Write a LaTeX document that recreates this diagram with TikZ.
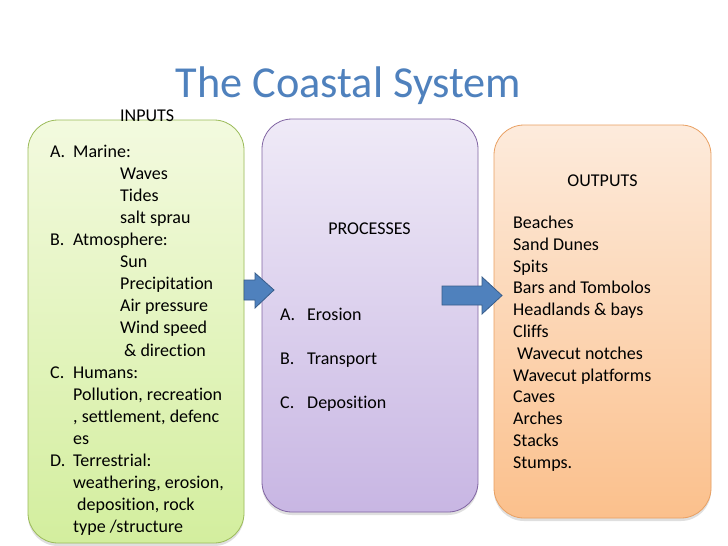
\documentclass[tikz,border=0pt]{standalone}
\usepackage{fontspec}
\setmainfont[Ligatures={NoCommon}]{Carlito}
\usetikzlibrary{shadows}
\definecolor{titleblue}{HTML}{4F81BD}
\definecolor{arrowfill}{HTML}{4F81BD}
\definecolor{arrowline}{HTML}{385D8A}
\definecolor{gtop}{HTML}{F3FADF}
\definecolor{gbot}{HTML}{D3EE9E}
\definecolor{gline}{HTML}{9BBB59}
\definecolor{ptop}{HTML}{EFEAF7}
\definecolor{pbot}{HTML}{C8B6E3}
\definecolor{pline}{HTML}{8064A2}
\definecolor{otop}{HTML}{FDEBDC}
\definecolor{obot}{HTML}{FBC08C}
\definecolor{oline}{HTML}{E9A062}
\begin{document}
\begin{tikzpicture}[x=1pt,y=-1pt,
  box/.style={rounded corners=30pt, line width=0.8pt, inner sep=0pt,
    drop shadow={shadow xshift=0pt, shadow yshift=-3pt, opacity=0.25}},
  txt/.style={anchor=base west, inner sep=0pt, font=\fontsize{18pt}{22pt}\selectfont},
  ctxt/.style={anchor=base, inner sep=0pt, font=\fontsize{18pt}{22pt}\selectfont},
  blockarrow/.style={fill=arrowfill, draw=arrowline, line width=0.8pt}]
\useasboundingbox (0,0) rectangle (728,546);
\fill[white] (0,0) rectangle (728,546);
% title
\node[anchor=base, inner sep=0pt, text=titleblue, font=\fontsize{44.3pt}{50pt}\selectfont] (title) at (348.5,97) {The Coastal System};
% boxes
\node[box, draw=gline, top color=gtop, bottom color=gbot, minimum width=216pt, minimum height=423pt] (in) at (136,331.5) {};
\node[box, draw=pline, top color=ptop, bottom color=pbot, minimum width=216pt, minimum height=393pt] (proc) at (370,315.5) {};
\node[box, draw=oline, top color=otop, bottom color=obot, minimum width=217pt, minimum height=393pt] (out) at (602.5,321.5) {};
% arrows
\coordinate (a1s) at (244,290);
\coordinate (a1t) at (274,290);
\draw[blockarrow] (a1s) ++(0,-10) -- (255,280) -- (255,273) -- (a1t) -- (255,308) -- (255,300) -- (244,300) -- cycle;
\coordinate (a2s) at (442,295.5);
\coordinate (a2t) at (502,295.5);
\draw[blockarrow] (a2s) ++(0,-9.5) -- (482,286) -- (482,277) -- (a2t) -- (482,314) -- (482,305) -- (442,305) -- cycle;
% inputs
\node[txt] (inputs) at (120,121) {INPUTS};
\foreach \xx/\tt [count=\i from 0] in {
  50/{\makebox[23pt][l]{A.}Marine:},
  120/{Waves},
  120/{Tides},
  120/{salt sprau},
  50/{\makebox[23pt][l]{B.}Atmosphere:},
  120/{Sun},
  120/{Precipitation},
  120/{Air pressure},
  120/{Wind speed},
  124/{\& direction},
  50/{\makebox[23pt][l]{C.}Humans:},
  73/{Pollution, recreation},
  73/{, settlement, defenc},
  73/{es},
  50/{\makebox[23pt][l]{D.}Terrestrial:},
  73/{weathering, erosion,},
  77/{deposition, rock},
  73/{type /structure}}
  \node[txt] (l\i) at (\xx, 157.5+22.06*\i) {\tt};
% processes
\node[ctxt] (processes) at (369.5,234) {PROCESSES};
\foreach \ll/\tt [count=\i from 0] in {A./Erosion, B./Transport, C./Deposition}
  \node[txt] (p\i) at (280, 320.5+44*\i) {\makebox[27pt][l]{\ll}\tt};
% outputs
\node[ctxt] (outputs) at (602.5,186) {OUTPUTS};
\foreach \xx/\tt [count=\i from 0] in {
  513/{Beaches},
  513/{Sand Dunes},
  513/{Spits},
  513/{Bars and Tombolos},
  513/{Headlands \& bays},
  513/{Cliffs},
  517/{Wavecut notches},
  513/{Wavecut platforms},
  513/{Caves},
  513/{Arches},
  513/{Stacks},
  513/{Stumps.}}
  \node[txt] (o\i) at (\xx, 228.5+21.8*\i) {\tt};
\end{tikzpicture}
\end{document}
